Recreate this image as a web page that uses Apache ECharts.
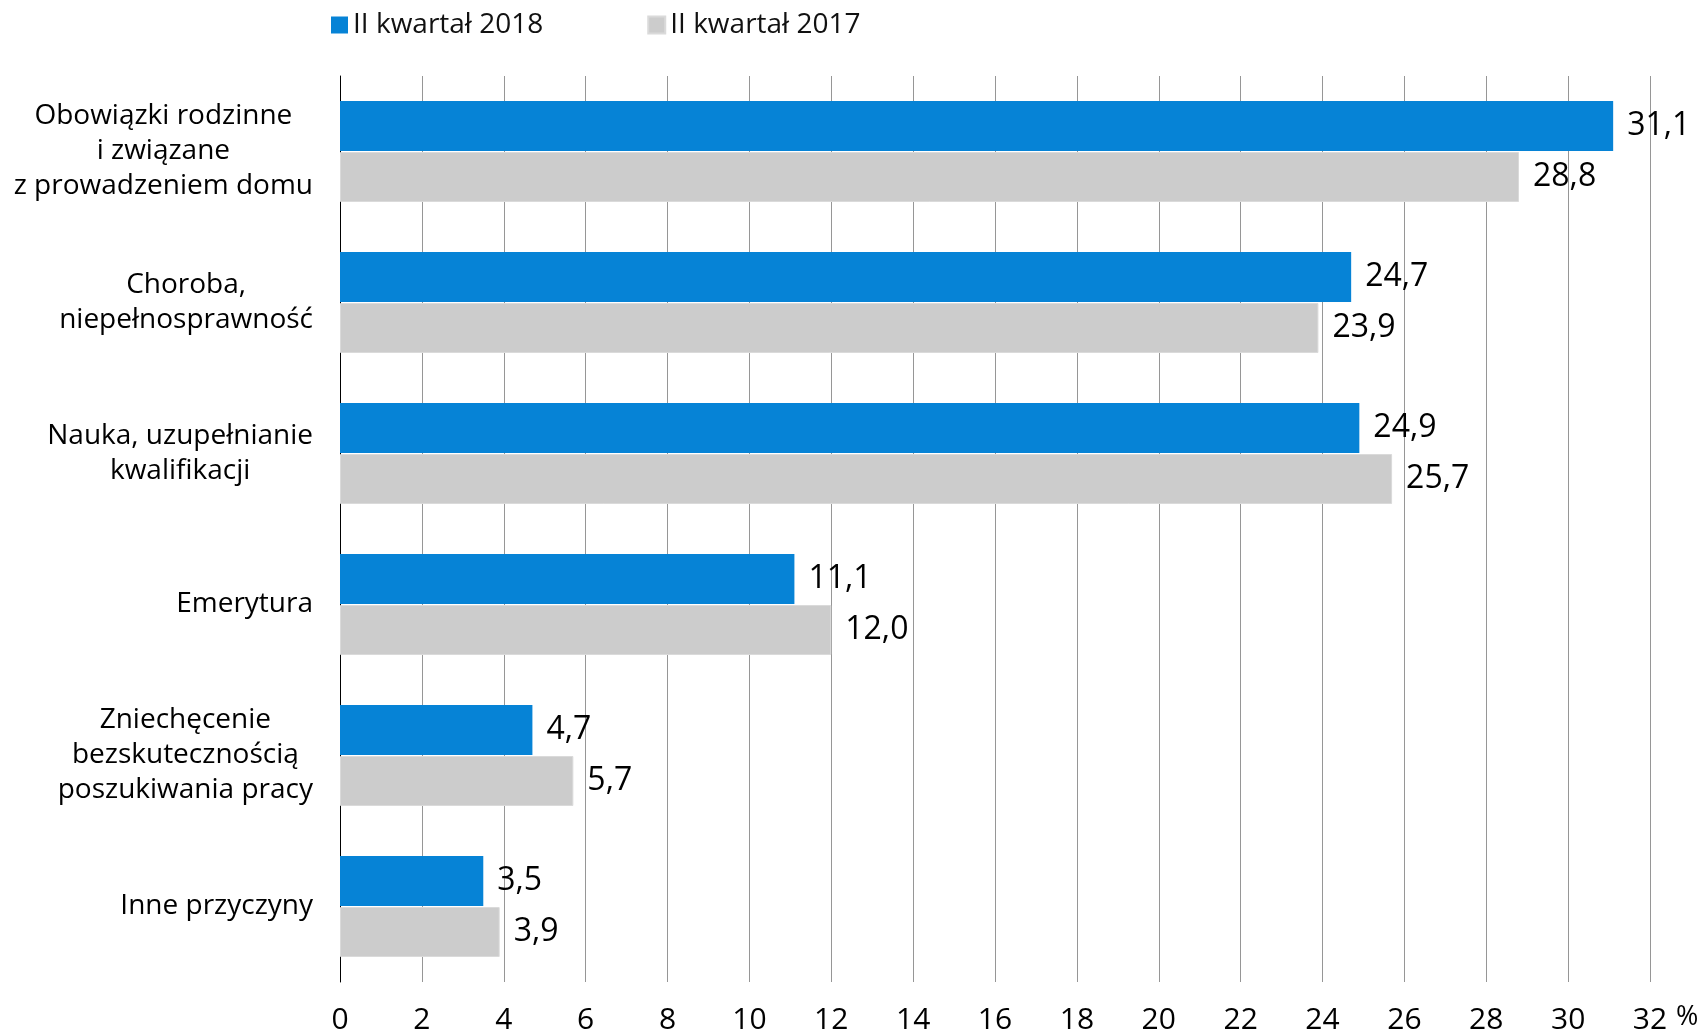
<!DOCTYPE html>
<html lang="pl">

<head>
    <meta charset="UTF-8">
    <meta name="viewport" content="width=device-width, initial-scale=1.0">
    <title>Bierni zawodowo - przyczyny</title>
    <script src="https://cdn.jsdelivr.net/npm/echarts@6/dist/echarts.min.js"></script>
    <style>
        html,
        body {
            margin: 0;
            padding: 0;
            background: #fff;
        }

        .box {
            width: 1702px;
            height: 1035px;
        }
    </style>
</head>

<body>
    <div class="box"></div>

    <script>
        // dane
        var categories = [
            'Obowiązki rodzinne\ni związane\nz prowadzeniem domu',
            'Choroba,\nniepełnosprawność',
            'Nauka, uzupełnianie\nkwalifikacji',
            'Emerytura',
            'Zniechęcenie\nbezskutecznością\nposzukiwania pracy',
            'Inne przyczyny'
        ];
        var kw2018 = [31.1, 24.7, 24.9, 11.1, 4.7, 3.5];
        var kw2017 = [28.8, 23.9, 25.7, 12.0, 5.7, 3.9];
        var seriesNames = ['II kwartał 2018', 'II kwartał 2017'];
        var xMin = 0, xMax = 32, xStep = 2;
        var unit = '%';

        var font = '"Open Sans", "Noto Sans", sans-serif';

        var myChart = echarts.init(document.querySelector('.box'));

        function plNum(v) {
            return v.toFixed(1).replace('.', ',');
        }

        var valueLabel = {
            show: true,
            position: 'right',
            distance: 14,
            color: '#000',
            fontFamily: font,
            fontSize: 32,
            formatter: function (p) {
                return plNum(p.value);
            }
        };

        var option = {
            animation: false,
            textStyle: { fontFamily: font },
            legend: {
                data: seriesNames,
                left: 331,
                top: 10,
                padding: 0,
                itemWidth: 17,
                itemHeight: 17,
                itemGap: 104,
                icon: 'rect',
                textStyle: {
                    color: '#111',
                    fontSize: 28,
                    lineHeight: 30,
                    fontFamily: font
                }
            },
            grid: {
                left: 340,
                right: 52,
                top: 76,
                bottom: 53
            },
            xAxis: {
                type: 'value',
                min: xMin,
                max: xMax,
                interval: xStep,
                axisLine: { show: false },
                axisTick: { show: false },
                splitLine: {
                    lineStyle: { color: '#969696', width: 1 }
                },
                axisLabel: {
                    color: '#000',
                    fontSize: 30,
                    margin: 23
                }
            },
            yAxis: {
                type: 'category',
                data: categories,
                inverse: true,
                axisLine: {
                    lineStyle: { color: '#000', width: 1 }
                },
                axisTick: {
                    length: 8,
                    lineStyle: { color: '#000' }
                },
                axisLabel: {
                    margin: 27,
                    align: 'right',
                    color: '#000',
                    formatter: function (v) {
                        return v.split('\n').map(function (l) {
                            return '{c|' + l + '}';
                        }).join('\n');
                    },
                    rich: {
                        c: {
                            align: 'center',
                            fontSize: 28,
                            lineHeight: 35,
                            color: '#000',
                            fontFamily: font
                        }
                    }
                }
            },
            series: [{
                name: seriesNames[0],
                type: 'bar',
                data: kw2018,
                barWidth: 50,
                barGap: '2%',
                itemStyle: { color: '#0683d6' },
                label: valueLabel
            }, {
                name: seriesNames[1],
                type: 'bar',
                data: kw2017,
                barWidth: 50,
                barGap: '2%',
                itemStyle: { color: '#cccccc', borderColor: '#dadada', borderWidth: 1 },
                label: valueLabel
            }]
        };

        myChart.setOption(option);

        // jednostka "%" obok ostatniej etykiety osi X
        var endX = myChart.convertToPixel({ xAxisIndex: 0 }, xMax);
        var bottomY = myChart.getHeight() - option.grid.bottom;
        myChart.setOption({
            graphic: [{
                type: 'text',
                left: endX + 26,
                top: bottomY + 22,
                style: {
                    text: unit,
                    fill: '#000',
                    font: '27px ' + font
                }
            }]
        });
    </script>
</body>

</html>
